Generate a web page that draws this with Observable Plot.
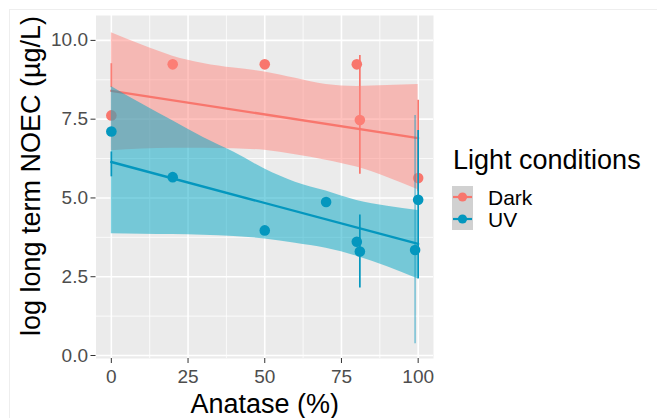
<!DOCTYPE html>
<html>
<head>
<meta charset="utf-8">
<script src="https://cdn.jsdelivr.net/npm/d3@7"></script>
<script src="https://cdn.jsdelivr.net/npm/@observablehq/plot@0.6"></script>
<style>
  body { margin: 0; background: #ffffff; }
  #wrap { position: relative; width: 657px; height: 418px; overflow: hidden; font-family: "Liberation Sans", Arial, sans-serif; }
  #frameline { position: absolute; left: 9px; top: 9px; width: 700px; height: 420px; border-left: 1px solid #eeeeee; border-top: 1px solid #eeeeee; }
  #legend { position: absolute; left: 0; top: 0; pointer-events: none; }
</style>
</head>
<body>
<div id="wrap"><div id="frameline"></div></div>
<script>
// ---- data ----
const seriesNames = ["Dark", "UV"];
const legendTitle = "Light conditions";
const xTitle = "Anatase (%)";
const yTitle = "log long term NOEC (µg/L)";

const xTicks = [0, 25, 50, 75, 100];
const xTickLabels = ["0", "25", "50", "75", "100"];
const yTicks = [0, 2.5, 5, 7.5, 10];
const yTickLabels = ["0.0", "2.5", "5.0", "7.5", "10.0"];
const xMinor = [12.5, 37.5, 62.5, 87.5];
const yMinor = [1.25, 3.75, 6.25, 8.75];

// points
const darkX = [0, 20, 50, 80, 81, 100];
const darkY = [7.62, 9.24, 9.24, 9.24, 7.47, 5.63];
const uvX = [0, 20, 50, 70, 80, 81, 99, 100];
const uvY = [7.11, 5.66, 3.97, 4.87, 3.61, 3.30, 3.35, 4.94];

// error bars
const darkErrX = [0, 81, 100];
const darkErrLo = [8.5, 5.75, 5.2];
const darkErrHi = [9.26, 9.52, 8.1];
const uvErrX = [0, 81, 100];
const uvErrLo = [5.67, 2.14, 2.43];
const uvErrHi = [6.46, 4.46, 7.14];
const uvErrFaintX = [99];
const uvErrFaintLo = [0.37];
const uvErrFaintHi = [7.62];

// regression fits
const fitX = [0, 100];
const darkFit = [8.4, 6.9];
const uvFit = [6.14, 3.54];

// confidence bands
const bandX = [0, 10, 20, 30, 40, 50, 60, 70, 80, 90, 100];
const darkHi = [10.24, 9.85, 9.5, 9.27, 9.12, 9.0, 8.8, 8.6, 8.54, 8.57, 8.6];
const darkLo = [6.5, 6.55, 6.58, 6.58, 6.56, 6.51, 6.37, 6.2, 5.98, 5.65, 5.26];
const uvHi = [8.54, 7.98, 7.45, 6.92, 6.45, 5.92, 5.5, 5.22, 4.92, 4.74, 4.6];
const uvLo = [3.86, 3.85, 3.84, 3.82, 3.78, 3.70, 3.56, 3.40, 3.15, 2.82, 2.43];

// ---- styling ----
const colDark = "#F8766D";
const colUV = "#0497BE";
const font = "Liberation Sans, Arial, sans-serif";

const zip = (xs, ...cols) => xs.map((x, i) => ({x, ...Object.fromEntries(cols.map(([k, arr]) => [k, arr[i]]))}));

const darkPts = zip(darkX, ["y", darkY]);
const uvPts = zip(uvX, ["y", uvY]);
const darkErr = zip(darkErrX, ["lo", darkErrLo], ["hi", darkErrHi]);
const uvErr = zip(uvErrX, ["lo", uvErrLo], ["hi", uvErrHi]);
const uvErrFaint = zip(uvErrFaintX, ["lo", uvErrFaintLo], ["hi", uvErrFaintHi]);
const darkBand = zip(bandX, ["lo", darkLo], ["hi", darkHi]);
const uvBand = zip(bandX, ["lo", uvLo], ["hi", uvHi]);
const darkLine = zip(fitX, ["y", darkFit]);
const uvLine = zip(fitX, ["y", uvFit]);

const chart = Plot.plot({
  width: 657,
  height: 418,
  marginLeft: 95.5,
  marginRight: 224,
  marginTop: 15,
  marginBottom: 60,
  x: {domain: [-5, 105]},
  y: {domain: [-0.095, 10.79]},
  style: {fontFamily: font, background: "transparent", overflow: "visible"},
  marks: [
    Plot.frame({fill: "#EBEBEB", stroke: null}),
    Plot.gridX(xMinor, {stroke: "white", strokeOpacity: 1, strokeWidth: 0.8}),
    Plot.gridY(yMinor, {stroke: "white", strokeOpacity: 1, strokeWidth: 0.8}),
    Plot.gridX(xTicks, {stroke: "white", strokeOpacity: 1, strokeWidth: 1.6}),
    Plot.gridY(yTicks, {stroke: "white", strokeOpacity: 1, strokeWidth: 1.6}),
    // Dark layers
    Plot.ruleX(darkErr, {x: "x", y1: "lo", y2: "hi", stroke: colDark, strokeWidth: 1.7}),
    Plot.dot(darkPts, {x: "x", y: "y", r: 5.3, fill: colDark, stroke: null}),
    Plot.areaY(darkBand, {x: "x", y1: "lo", y2: "hi", fill: "#FF867D", fillOpacity: 0.5, curve: "monotone-x"}),
    Plot.line(darkLine, {x: "x", y: "y", stroke: colDark, strokeWidth: 2.4}),
    // UV layers
    Plot.areaY(uvBand, {x: "x", y1: "lo", y2: "hi", fill: "#00A6C4", fillOpacity: 0.5, curve: "monotone-x"}),
    Plot.ruleX(uvErrFaint, {x: "x", y1: "lo", y2: "hi", stroke: colUV, strokeOpacity: 0.45, strokeWidth: 1.7}),
    Plot.ruleX(uvErr, {x: "x", y1: "lo", y2: "hi", stroke: colUV, strokeWidth: 1.7}),
    Plot.dot(uvPts, {x: "x", y: "y", r: 5.3, fill: colUV, stroke: null}),
    Plot.line(uvLine, {x: "x", y: "y", stroke: colUV, strokeWidth: 2.4}),
    // axes
    Plot.axisX(xTicks, {tickSize: 5, tickPadding: 6, fontSize: 19, stroke: "#333333", fill: "#4D4D4D", label: null,
      tickFormat: (d) => xTickLabels[xTicks.indexOf(d)]}),
    Plot.axisY(yTicks, {tickSize: 5, tickPadding: 3, fontSize: 19, stroke: "#333333", fill: "#4D4D4D", label: null,
      tickFormat: (d) => yTickLabels[yTicks.indexOf(d)]}),
    Plot.text([xTitle], {text: (d) => d, frameAnchor: "bottom", dy: 46, fontSize: 27, fill: "black", lineAnchor: "middle"}),
    Plot.text([yTitle], {text: (d) => d, frameAnchor: "left", dx: -65, dy: -11, rotate: -90, fontSize: 27, fill: "black", lineAnchor: "middle", textAnchor: "middle"})
  ]
});

const wrap = document.getElementById("wrap");
wrap.appendChild(chart);

// ---- legend (ggplot-style, on the right) ----
const leg = d3.select(wrap).append("svg")
  .attr("id", "legend")
  .attr("width", 657).attr("height", 418)
  .style("font-family", font);
leg.append("text").attr("x", 453).attr("y", 169).attr("font-size", 27).attr("fill", "black").text(legendTitle);
const legColors = [colDark, colUV];
const keyX = 452, keyW = 21, keyTop = 186, keyH = 22;
seriesNames.forEach((name, i) => {
  const cy = keyTop + keyH * i + keyH / 2;
  leg.append("rect").attr("x", keyX).attr("y", keyTop + keyH * i).attr("width", keyW).attr("height", keyH).attr("fill", "#D1D1D1");
  leg.append("line").attr("x1", keyX + 1).attr("x2", keyX + keyW - 1).attr("y1", cy).attr("y2", cy)
    .attr("stroke", legColors[i]).attr("stroke-width", 2.2);
  leg.append("circle").attr("cx", keyX + keyW / 2).attr("cy", cy).attr("r", 4.6).attr("fill", legColors[i]);
  leg.append("text").attr("x", 488).attr("y", cy + 8).attr("font-size", 21).attr("fill", "black").text(name);
});
</script>
</body>
</html>
